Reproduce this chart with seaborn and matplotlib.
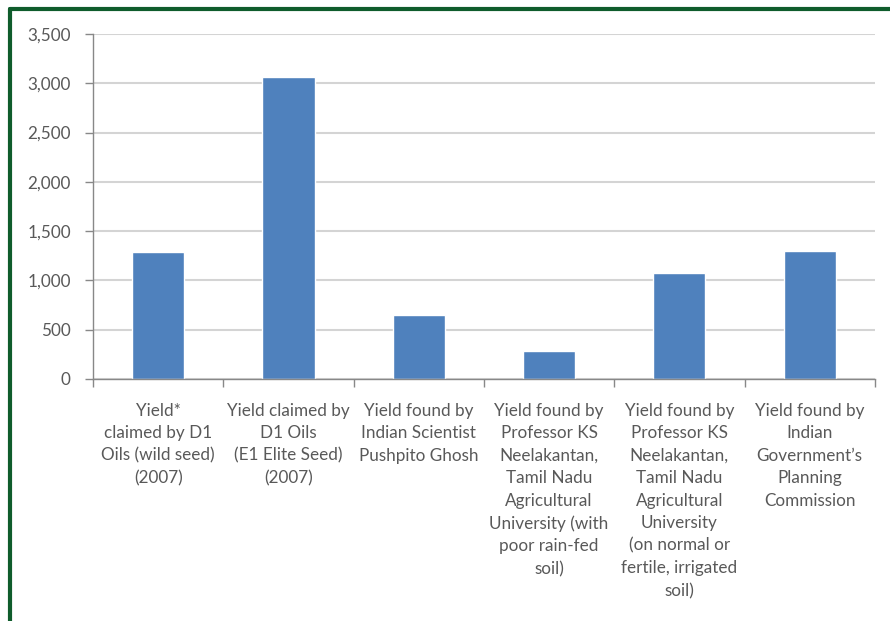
import matplotlib
matplotlib.use('Agg')
import matplotlib.pyplot as plt
from matplotlib.lines import Line2D
from matplotlib.ticker import FuncFormatter, MultipleLocator
import numpy as np
import pandas as pd
import seaborn as sns

categories = [
    'Yield*\nclaimed by D1\nOils (wild seed)\n(2007)',
    'Yield claimed by\nD1 Oils\n(E1 Elite Seed)\n(2007)',
    'Yield found by\nIndian Scientist\nPushpito Ghosh',
    'Yield found by\nProfessor KS\nNeelakantan,\nTamil Nadu\nAgricultural\nUniversity (with\npoor rain-fed\nsoil)',
    'Yield found by\nProfessor KS\nNeelakantan,\nTamil Nadu\nAgricultural\nUniversity\n(on normal or\nfertile, irrigated\nsoil)',
    'Yield found by\nIndian\nGovernment\u2019s\nPlanning\nCommission',
]
yields = [1290, 3060, 645, 280, 1075, 1300]

df = pd.DataFrame({'fonte': categories, 'rendimento': yields})

sns.set_style('white')
plt.rcParams['font.family'] = ['Lato', 'DejaVu Sans']

fig = plt.figure(figsize=(8.9, 6.21), dpi=100)
ax = fig.add_axes([0.1045, 0.3897, 0.8785, 0.5555])

sns.barplot(data=df, x='fonte', y='rendimento', color='#4f81bd', saturation=1,
            width=0.4, ax=ax)

ax.set_xlim(-0.5, len(categories) - 0.5)
ax.set_ylim(0, 3500)
ax.yaxis.set_major_locator(MultipleLocator(500))
ax.yaxis.set_major_formatter(FuncFormatter(lambda v, p: f'{int(v):,}'))
ax.grid(axis='y', color='#d4d4d4', linewidth=1.5)
ax.set_axisbelow(True)

ax.set_xlabel('')
ax.set_ylabel('')
ax.set_xticks(np.arange(len(categories)))
ax.set_xticklabels(categories, fontsize=12.3, color='#595959', linespacing=1.5,
                   va='top', ha='center')
ax.set_xticks(np.arange(len(categories) + 1) - 0.5, minor=True)
ax.tick_params(axis='x', which='major', length=0, pad=17)
ax.tick_params(axis='x', which='minor', length=6, color='#888888', width=1, bottom=True)
ax.tick_params(axis='y', length=6, color='#888888', width=1, left=True,
               labelsize=12.3, labelcolor='#595959', pad=10)

for side in ['top', 'right']:
    ax.spines[side].set_visible(False)
for side in ['left', 'bottom']:
    ax.spines[side].set_color('#888888')
    ax.spines[side].set_linewidth(1)

# moldura verde (esquerda e topo)
fig.add_artist(Line2D([0.0112, 0.0112], [0, 0.985], transform=fig.transFigure,
                      color='#0f5c2c', linewidth=3))
fig.add_artist(Line2D([0.0112, 1.0], [0.985, 0.985], transform=fig.transFigure,
                      color='#0f5c2c', linewidth=3))

fig.savefig('out.png', dpi=100)
plt.close(fig)
